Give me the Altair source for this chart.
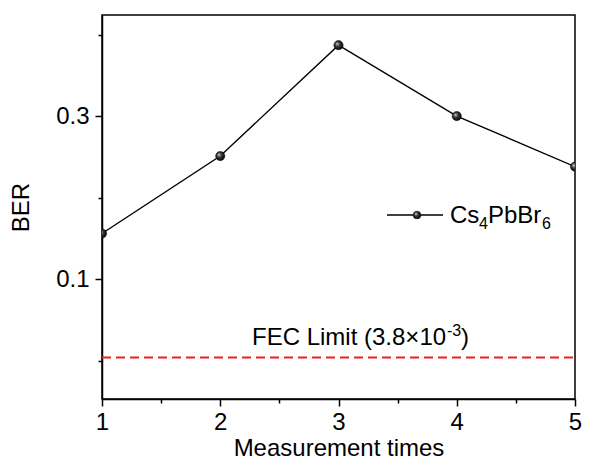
import altair as alt
import pandas as pd

# ---- data ----
times = [1, 2, 3, 4, 5]
ber = [0.156, 0.251, 0.387, 0.300, 0.238]
fec_limit = 0.0038
series_name = ["Cs", "4", "PbBr", "6"]
fec_text = ["FEC Limit (3.8×10", "-3", ")"]
x_ticks = [1, 1.5, 2, 2.5, 3, 3.5, 4, 4.5, 5]
y_ticks = [0.0, 0.1, 0.2, 0.3, 0.4]

FONT = "Liberation Sans"
FS = 24
SUB = 16

df = pd.DataFrame({"t": times, "ber": ber})
fec_df = pd.DataFrame({"t": [times[0]], "t2": [times[-1]], "y": [fec_limit]})

xscale = alt.Scale(domain=[1, 5], nice=False, zero=False)
yscale = alt.Scale(domain=[-0.047, 0.424], nice=False, zero=False)

x_axis = alt.Axis(
    values=x_ticks, title="Measurement times", grid=False,
    labelExpr="datum.value % 1 == 0 ? format(datum.value, 'd') : ''",
    tickSize={"condition": {"test": "datum.value % 1 == 0", "value": 7}, "value": 4},
    labelPadding=4, titleBaseline="alphabetic", titleY=56,
    labelOverlap=False, labelFlush=False,
)
y_axis = alt.Axis(
    values=y_ticks, title="BER", grid=False,
    labelExpr="(abs(datum.value-0.1)<1e-6 || abs(datum.value-0.3)<1e-6) ? format(datum.value, '.1f') : ''",
    tickSize={"condition": {"test": "abs(datum.value-0.1)<1e-6 || abs(datum.value-0.3)<1e-6", "value": 7}, "value": 4},
    labelPadding=6, titlePadding=22, labelOverlap=False, labelFlush=False,
)

sphere = alt.RadialGradient(
    gradient="radial",
    stops=[alt.GradientStop(color="#d0d0d0", offset=0),
           alt.GradientStop(color="#333333", offset=0.45),
           alt.GradientStop(color="#000000", offset=1)],
    x1=0.35, y1=0.35, r1=0, x2=0.45, y2=0.45, r2=0.6,
)

base = alt.Chart(df)
line = base.mark_line(color="black", strokeWidth=1.4, clip=True).encode(
    x=alt.X("t:Q", scale=xscale, axis=x_axis),
    y=alt.Y("ber:Q", scale=yscale, axis=y_axis),
)
pts = base.mark_circle(size=85, fill=sphere, opacity=1, stroke="#000", strokeWidth=0.5, clip=True).encode(
    x=alt.X("t:Q", scale=xscale), y=alt.Y("ber:Q", scale=yscale)
)

fec = alt.Chart(fec_df).mark_rule(color="#e8231f", strokeWidth=2, strokeDash=[9, 5]).encode(
    x=alt.X("t:Q", scale=xscale), x2="t2:Q", y=alt.Y("y:Q", scale=yscale)
)

def txt(s, x, y, size):
    return alt.Chart(pd.DataFrame({"s": [s]})).mark_text(
        align="left", baseline="alphabetic", font=FONT, fontSize=size, color="black"
    ).encode(text="s:N", x=alt.value(x), y=alt.value(y))

# FEC annotation (plot-area pixel positions)
fx, fy = 150, 330
fec_txt = [
    txt(fec_text[0], fx, fy, FS),
    txt(fec_text[1], fx + 195, fy - 9, SUB),
    txt(fec_text[2], fx + 209, fy, FS),
]

# legend
lx, ly = 285, 200
leg_line = alt.Chart(pd.DataFrame({"a": [0]})).mark_rule(color="black", strokeWidth=1.4).encode(
    x=alt.value(lx), x2=alt.value(lx + 56), y=alt.value(ly)
)
leg_pt = alt.Chart(pd.DataFrame({"a": [0]})).mark_circle(size=60, fill=sphere, opacity=1, stroke="#000", strokeWidth=0.5).encode(
    x=alt.value(lx + 30), y=alt.value(ly)
)
tx, ty = 348, 208
leg_txt = [
    txt(series_name[0], tx, ty, FS),
    txt(series_name[1], tx + 29, ty + 6, SUB),
    txt(series_name[2], tx + 38, ty, FS),
    txt(series_name[3], tx + 92, ty + 6, SUB),
]

chart = alt.layer(line, pts, fec, *fec_txt, leg_line, leg_pt, *leg_txt).properties(
    width=473, height=384,
    autosize=alt.AutoSizeParams(type="none"),
    padding={"left": 94, "top": 7, "right": 7, "bottom": 62},
).configure_view(stroke="black", strokeWidth=1.5).configure_axis(
    domainColor="black", domainWidth=1.5, tickColor="black", tickWidth=1.5,
    labelFont=FONT, labelFontSize=FS, labelColor="black",
    titleFont=FONT, titleFontSize=FS, titleColor="black", titleFontWeight="normal",
)

chart.save("out.html", embed_options={"renderer": "svg", "actions": False})
